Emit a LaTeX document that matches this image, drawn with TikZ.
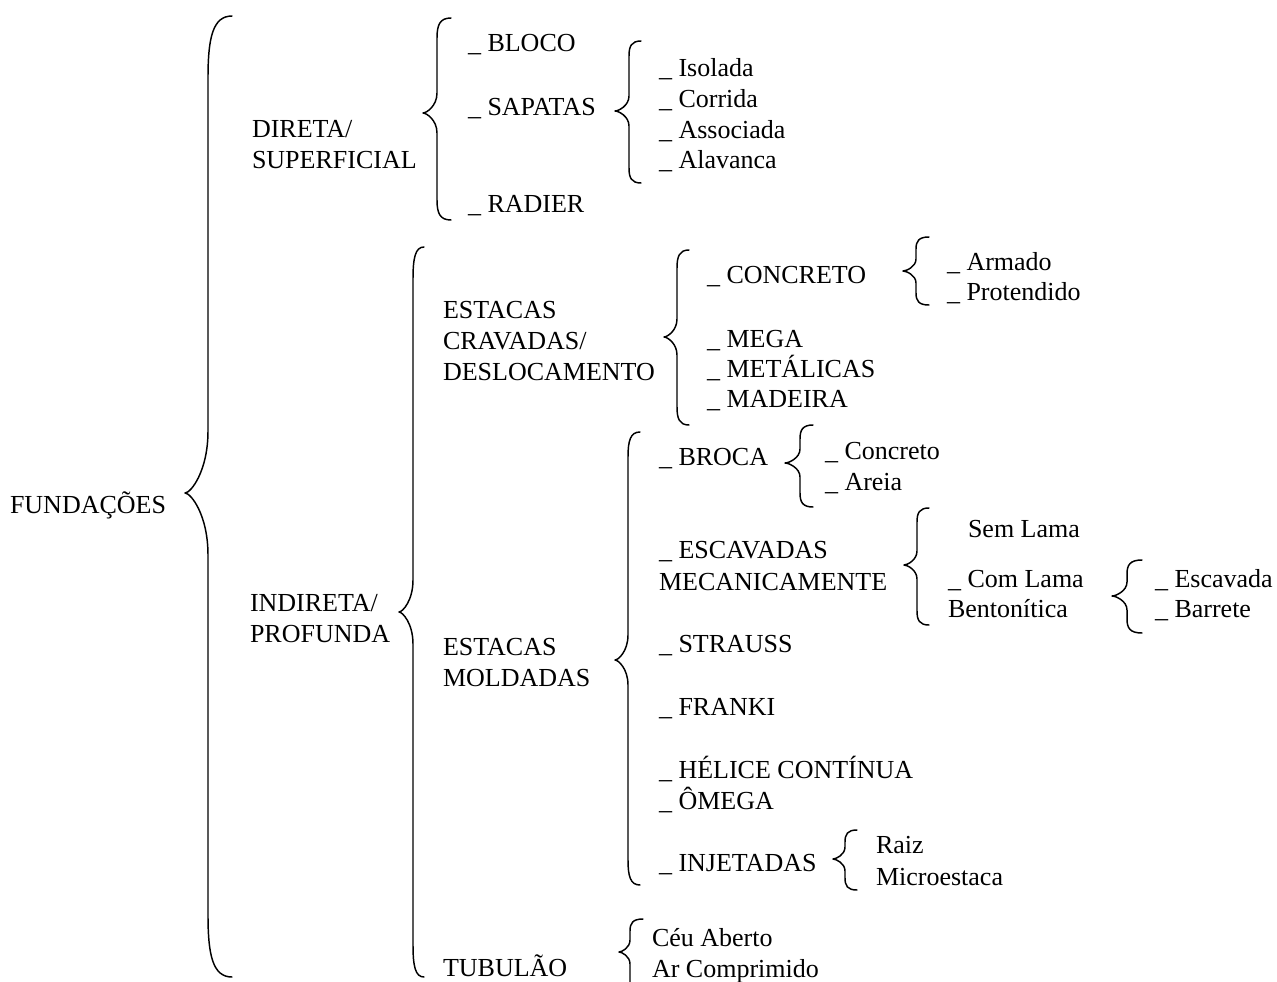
\documentclass[tikz,border=0pt]{standalone}
\usepackage{fontspec}
\setmainfont{Liberation Serif}
\tikzset{
  txt/.style={anchor=base west, inner sep=0pt, outer sep=0pt, font=\fontsize{19.5}{23}\selectfont},
  brace/.style={line width=1.1pt, line cap=round, line join=round}
}
\newcommand{\mybrace}[7]{%
  \draw[brace] (#6,#2) .. controls ({#1+0.2*(#6-#1)},#2) and (#1,{#2+0.35*#7}) .. (#1,{#2+#7})
   -- (#1,{#5-#7}) .. controls (#1,{#5-0.35*#7}) and ({#4+0.25*(#1-#4)},#5) .. (#4,#5)
   .. controls ({#4+0.25*(#1-#4)},#5) and (#1,{#5+0.35*#7}) .. (#1,{#5+#7})
   -- (#1,{#3-#7}) .. controls (#1,{#3-0.35*#7}) and ({#1+0.2*(#6-#1)},#3) .. (#6,#3);}
\begin{document}
\begin{tikzpicture}[x=0.75pt,y=-0.75pt]
\useasboundingbox[fill=white] (0,0) rectangle (1277,981);
% braces
\mybrace{208}{16}{977}{185}{493}{232}{62}
\mybrace{437}{18}{220}{423}{113}{451}{20}
\mybrace{629}{41}{183}{615}{111}{641}{15}
\mybrace{413}{247}{977}{399}{612}{424}{32}
\mybrace{677}{250}{425}{664}{337}{689}{18}
\mybrace{916}{237}{305}{903}{271}{929}{12}
\mybrace{628}{432}{885}{615}{660}{640}{25}
\mybrace{800}{425}{507}{785}{463}{813}{14}
\mybrace{917}{508}{625}{904}{565}{929}{14}
\mybrace{1127}{560}{633}{1112}{596}{1142}{14}
\mybrace{845}{830}{890}{833}{859}{857}{12}
\mybrace{630}{919}{1010}{619}{952}{643}{12}
% texts
\node[txt] (fund) at (10,513) {FUNDAÇÕES};
\node[txt] (dir1) at (252,137) {DIRETA/};
\node[txt] (dir2) at (252,168) {SUPERFICIAL};
\node[txt] (bloco) at (468,52) {\_ BLOCO};
\node[txt] (sap) at (468,115) {\_ SAPATAS};
\node[txt] (rad) at (468,212) {\_ RADIER};
\node[txt] (iso) at (659,77) {\_ Isolada};
\node[txt] (cor) at (659,108) {\_ Corrida};
\node[txt] (ass) at (659,138) {\_ Associada};
\node[txt] (ala) at (659,168) {\_ Alavanca};
\node[txt] (ind1) at (250,611) {INDIRETA/};
\node[txt] (ind2) at (250,642) {PROFUNDA};
\node[txt] (cra1) at (443,318) {ESTACAS};
\node[txt] (cra2) at (443,349) {CRAVADAS/};
\node[txt] (cra3) at (443,380) {DESLOCAMENTO};
\node[txt] (conc) at (707,283) {\_ CONCRETO};
\node[txt] (mega) at (707,347) {\_ MEGA};
\node[txt] (meta) at (707,377) {\_ METÁLICAS};
\node[txt] (made) at (707,407) {\_ MADEIRA};
\node[txt] (arm) at (947,270) {\_ Armado};
\node[txt] (prot) at (947,300) {\_ Protendido};
\node[txt] (mol1) at (443,655) {ESTACAS};
\node[txt] (mol2) at (443,686) {MOLDADAS};
\node[txt] (broca) at (659,465) {\_ BROCA};
\node[txt] (bcon) at (825,459) {\_ Concreto};
\node[txt] (bare) at (825,490) {\_ Areia};
\node[txt] (esc1) at (659,558) {\_ ESCAVADAS};
\node[txt] (esc2) at (659,590) {MECANICAMENTE};
\node[txt] (sem) at (968,537) {Sem Lama};
\node[txt] (com1) at (948,587) {\_ Com Lama};
\node[txt] (com2) at (948,617) {Bentonítica};
\node[txt] (escv) at (1155,587) {\_ Escavada};
\node[txt] (barr) at (1155,617) {\_ Barrete};
\node[txt] (str) at (659,652) {\_ STRAUSS};
\node[txt] (fra) at (659,715) {\_ FRANKI};
\node[txt] (hel) at (659,778) {\_ HÉLICE CONTÍNUA};
\node[txt] (ome) at (659,809) {\_ ÔMEGA};
\node[txt] (inj) at (659,871) {\_ INJETADAS};
\node[txt] (raiz) at (876,853) {Raiz};
\node[txt] (micro) at (876,885) {Microestaca};
\node[txt] (tub) at (443,976) {TUBULÃO};
\node[txt] (ceu) at (652,946) {Céu Aberto};
\node[txt] (arc) at (652,977) {Ar Comprimido};
\end{tikzpicture}
\end{document}
